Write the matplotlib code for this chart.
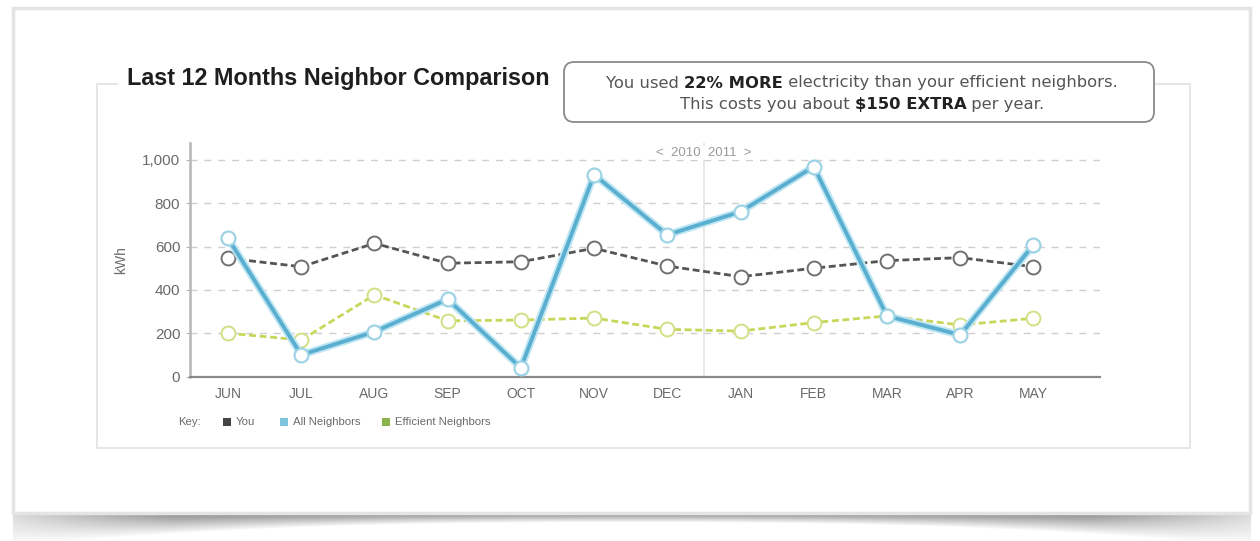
import numpy as np
import matplotlib
matplotlib.use('Agg')
import matplotlib.pyplot as plt
from matplotlib.patches import Rectangle, FancyBboxPatch

plt.rcParams['font.family'] = ['Liberation Sans', 'DejaVu Sans']

# data (kWh)
months = ['JUN', 'JUL', 'AUG', 'SEP', 'OCT', 'NOV', 'DEC', 'JAN', 'FEB', 'MAR', 'APR', 'MAY']
you = [546, 507, 615, 523, 530, 592, 510, 461, 500, 535, 549, 507]
all_neighbors = [638, 100, 207, 357, 40, 932, 654, 761, 969, 280, 192, 607]
efficient = [200, 169, 377, 257, 261, 270, 218, 210, 249, 280, 238, 269]
y_ticks = [0, 200, 400, 600, 800, 1000]

W, H = 1260, 541
fig = plt.figure(figsize=(W / 100, H / 100), dpi=100)
fig.set_facecolor('white')

# background layer in pixel coords
bg = fig.add_axes([0, 0, 1, 1], zorder=0)
bg.set_xlim(0, W)
bg.set_ylim(H, 0)
bg.axis('off')

# page curl shadow under the card
yy, xx = np.mgrid[0:H, 0:W].astype(float)
top = 513
card_l, card_r = 13, 1250
edge = 522 + 24 * (np.abs(xx - 630) / 617) ** 2.5
side = np.minimum(xx - card_l, card_r - xx)
dark = 0.55 + 0.3 * np.clip((160 - side) / 160, 0, 1)
frac = np.clip((yy - top) / np.maximum(edge - top, 1), 0, 1)
shade = dark + (1 - dark) * frac
shade = np.where((yy >= top) & (yy < edge) & (side >= 0), shade, 1.0)
img = np.dstack([shade, shade, shade])
bg.imshow(img, extent=(0, W, H, 0), aspect='auto', zorder=0)

# card
bg.add_patch(Rectangle((card_l, 8), card_r - card_l, 505, facecolor='white', edgecolor='#e4e4e4',
                       lw=2.5, zorder=1))
# inner panel
bg.add_patch(Rectangle((97, 84), 1093, 364, facecolor='white', edgecolor='#e2e2e2', lw=1.2, zorder=2))
# white gap behind title
bg.add_patch(Rectangle((118, 66), 445, 30, facecolor='white', edgecolor='none', zorder=3))

bg.text(127, 79, 'Last 12 Months Neighbor Comparison', fontsize=16.8, weight='bold',
        color='#1e1e1e', va='center', ha='left', zorder=4)

# callout box
bg.add_patch(FancyBboxPatch((564, 62), 590, 60, boxstyle='round,pad=0,rounding_size=10',
                            facecolor='white', edgecolor='#8a8a8a', lw=1.3, zorder=4))


def rich_line(parts, xc, y, size):
    fam = ['DejaVu Sans']
    first = bg.text(xc, y, parts[0][0], fontsize=size, weight=parts[0][1], color=parts[0][2],
                    va='center', ha='left', zorder=5, family=fam)
    prev = first
    for s, w, c in parts[1:]:
        prev = bg.annotate(s, xy=(1, 0), xycoords=prev, fontsize=size, weight=w, color=c,
                           va='bottom', ha='left', zorder=5, family=fam)
    return first, prev


lines = []
lines.append(rich_line([('You used ', 'normal', '#555555'),
                        ('22% MORE', 'bold', '#222222'),
                        (' electricity than your efficient neighbors.', 'normal', '#555555')],
                       862, 83, 11.8))
lines.append(rich_line([('This costs you about ', 'normal', '#555555'),
                        ('$150 EXTRA', 'bold', '#222222'),
                        (' per year.', 'normal', '#555555')],
                       862, 104, 11.8))

# main chart
x = np.arange(len(months))
ax = fig.add_axes([190 / W, 1 - 377 / H, 910 / W, 234 / H], zorder=5)
ax.patch.set_alpha(0)
ax.set_xlim(-0.52, 11.91)
ax.set_ylim(-2, 1078)

for v in y_ticks[1:]:
    ax.axhline(v, color='#cfcfcf', lw=1, dashes=(5, 5), zorder=1)
ax.axvline(6.5, color='#e3e3e3', lw=1.2, zorder=1)
ax.text(6.5, 1032, '<  2010  2011  >', fontsize=9.5, color='#9a9a9a', ha='center', va='center',
        zorder=2, bbox=dict(facecolor='white', edgecolor='none', pad=1))

ax.plot(x, you, color='#555555', lw=2, dashes=(2.5, 1.3), marker='o', ms=10,
        mfc='white', mec='#707070', mew=1.4, zorder=3)
ax.plot(x, efficient, color='#c8d65a', lw=2, dashes=(2.5, 1.3), marker='o', ms=10,
        mfc='white', mec='#d3df85', mew=1.4, zorder=4)
ax.plot(x, all_neighbors, color='#bfe6f2', lw=5.5, solid_joinstyle='round', zorder=5)
ax.plot(x, all_neighbors, color='#5aafd0', lw=2.8, marker='o', ms=10,
        mfc='white', mec='#9ed3e6', mew=1.6, solid_joinstyle='round', zorder=6)

for s in ['top', 'right']:
    ax.spines[s].set_visible(False)
ax.spines['left'].set_color('#b5b5b5')
ax.spines['left'].set_linewidth(1.8)
ax.spines['bottom'].set_color('#8a8a8a')
ax.spines['bottom'].set_linewidth(1.6)

ax.set_yticks(y_ticks)
ax.set_yticklabels(['{:,}'.format(v) for v in y_ticks])
ax.set_xticks(x)
ax.set_xticklabels(months)
ax.tick_params(axis='y', length=3, color='#b5b5b5', labelsize=11, labelcolor='#6a6a6a', pad=4)
ax.tick_params(axis='x', length=0, labelsize=10, labelcolor='#6a6a6a', pad=7)
ax.set_ylabel('kWh', fontsize=10, color='#6a6a6a', labelpad=10)

# key
bg.text(178, 422, 'Key:', fontsize=8.2, color='#6a6a6a', va='center', ha='left', zorder=5)
key = [('You', '#444444', 223), ('All Neighbors', '#7fc4da', 280), ('Efficient Neighbors', '#8db34d', 382)]
for name, col, kx in key:
    bg.add_patch(Rectangle((kx, 418), 8, 8, facecolor=col, edgecolor='none', zorder=5))
    bg.text(kx + 13, 422, name, fontsize=8.2, color='#6a6a6a', va='center', ha='left', zorder=5)

# center the mixed-weight lines
fig.canvas.draw()
r = fig.canvas.get_renderer()
for first, last in lines:
    w = last.get_window_extent(r).x1 - first.get_window_extent(r).x0
    first.set_x(862 - w / 2)

fig.savefig('out.png', dpi=100)
